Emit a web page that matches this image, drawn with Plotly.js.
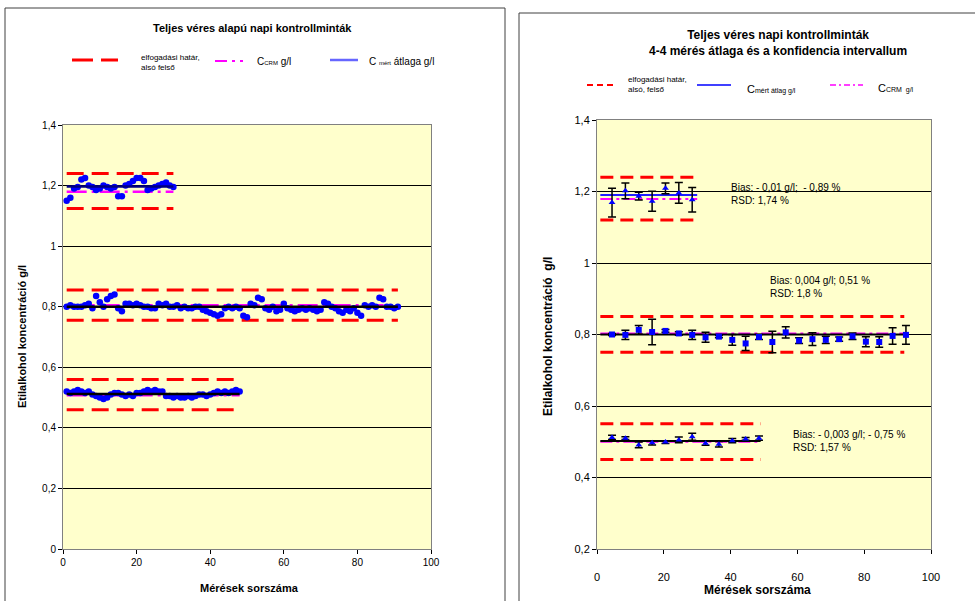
<!DOCTYPE html>
<html>
<head>
<meta charset="utf-8">
<script src="https://cdn.plot.ly/plotly-3.0.1.min.js"></script>
<style>
html,body{margin:0;padding:0;background:#fff;}
#chart{width:975px;height:601px;}
</style>
</head>
<body>
<div id="chart"></div>
<script>
// ---------- LEFT CHART DATA (individual measurements) ----------
const leftHigh = [1.15,1.16,1.19,1.195,1.22,1.225,1.2,1.195,1.185,1.19,1.2,1.195,1.19,1.195,1.165,1.165,1.2,1.205,1.215,1.225,1.225,1.215,1.185,1.19,1.195,1.2,1.205,1.21,1.2,1.195];
const leftMid = [0.80,0.805,0.80,0.80,0.80,0.805,0.81,0.795,0.835,0.815,0.80,0.825,0.835,0.84,0.795,0.785,0.81,0.81,0.805,0.81,
  0.805,0.80,0.80,0.795,0.795,0.81,0.805,0.81,0.80,0.80,0.805,0.795,0.80,0.795,0.795,0.80,0.80,0.79,0.785,0.78,
  0.775,0.77,0.775,0.795,0.80,0.795,0.80,0.795,0.77,0.765,0.81,0.805,0.83,0.825,0.795,0.79,0.80,0.785,0.79,0.81,
  0.795,0.79,0.785,0.79,0.795,0.79,0.795,0.79,0.785,0.79,0.815,0.81,0.80,0.795,0.785,0.78,0.79,0.785,0.795,0.78,
  0.77,0.805,0.80,0.805,0.80,0.83,0.825,0.80,0.80,0.795,0.80];
const leftLow = [0.52,0.515,0.52,0.525,0.52,0.515,0.52,0.51,0.505,0.50,0.495,0.50,0.51,0.515,0.515,0.51,0.505,0.51,0.505,0.515,
  0.515,0.52,0.525,0.52,0.525,0.52,0.52,0.505,0.505,0.50,0.505,0.50,0.50,0.505,0.50,0.505,0.51,0.51,0.505,0.51,
  0.515,0.52,0.515,0.52,0.515,0.52,0.525,0.52];
const leftGroupStart = [1, 1, 1];
const leftGroupEnd = [30, 91, 48];
const leftLower = [1.124, 0.755, 0.46];
const leftUpper = [1.24, 0.855, 0.56];
const leftCRM = [1.18, 0.805, 0.508];
const leftMean = [1.197, 0.80, 0.512];

// ---------- RIGHT CHART DATA (4-4 averages with confidence interval) ----------
const rightHighX = [4.5,8.5,12.5,16.5,20.5,24.5,28.5];
const rightHighY = [1.169,1.202,1.187,1.173,1.209,1.196,1.177];
const rightHighErr = [0.04,0.022,0.011,0.028,0.015,0.029,0.034];
const rightMidX = [4.5,8.5,12.5,16.5,20.5,24.5,28.5,32.5,36.5,40.5,44.5,48.5,52.5,56.5,60.5,64.5,68.5,72.5,76.5,80.5,84.5,88.5,92.5];
const rightMidY = [0.80,0.799,0.813,0.807,0.81,0.803,0.799,0.792,0.794,0.785,0.775,0.793,0.779,0.806,0.783,0.787,0.785,0.787,0.795,0.78,0.779,0.796,0.799];
const rightMidErr = [0.003,0.013,0.012,0.036,0.004,0.005,0.013,0.014,0.003,0.015,0.02,0.007,0.03,0.016,0.008,0.018,0.01,0.006,0.009,0.014,0.015,0.023,0.026];
const rightLowX = [4.5,8.5,12.5,16.5,20.5,24.5,28.5,32.5,36.5,40.5,44.5,48.5];
const rightLowY = [0.512,0.51,0.491,0.497,0.499,0.505,0.514,0.496,0.493,0.503,0.508,0.51];
const rightLowErr = [0.006,0.004,0.008,0.006,0.004,0.008,0.01,0.006,0.008,0.006,0.004,0.006];
const rightGroupStart = [1, 1, 1];
const rightGroupEnd = [30, 92, 49];
const rightLower = [1.12, 0.75, 0.45];
const rightUpper = [1.24, 0.85, 0.55];
const rightCRM = [1.179, 0.803, 0.50];
const rightMean = [1.19, 0.80, 0.502];

// ---------- TEXT ----------
const leftTitle = "Teljes véres alapú napi kontrollminták";
const rightTitle = "Teljes véres napi kontrollminták<br>4-4 mérés átlaga és a konfidencia intervallum";
const yTitle = "Etilalkohol koncentráció g/l";
const yTitleRight = "Etilalkohol koncentráció  g/l";
const xTitle = "Mérések sorszáma";
const biasTexts = ["Bias: - 0,01 g/l;  - 0,89 %<br>RSD: 1,74 %", "Bias: 0,004 g/l; 0,51 %<br>RSD: 1,8 %", "Bias: - 0,003 g/l; - 0,75 %<br>RSD: 1,57 %"];

const W = 975, H = 601;
const px = x => x / W;
const py = y => 1 - y / H;
const FONT = "Arial, 'Liberation Sans', sans-serif";

const RED = '#FF0000', MAG = '#FF00FF', BLUE = '#0000FF';
const traces = [];

function idx(n){ const a=[]; for(let i=1;i<=n;i++) a.push(i); return a; }

// left limit/ref lines
for (let g = 0; g < 3; g++) {
  const xs = [leftGroupStart[g], leftGroupEnd[g]];
  traces.push({x: xs, y: [leftUpper[g], leftUpper[g]], mode:'lines', line:{color:RED, width:3, dash:'17px,8px'}, xaxis:'x', yaxis:'y', showlegend:false, hoverinfo:'skip'});
  traces.push({x: xs, y: [leftLower[g], leftLower[g]], mode:'lines', line:{color:RED, width:3, dash:'17px,8px'}, xaxis:'x', yaxis:'y', showlegend:false, hoverinfo:'skip'});
  traces.push({x: xs, y: [leftCRM[g], leftCRM[g]], mode:'lines', line:{color:MAG, width:2.5, dash:'20px,5px,3px,5px'}, xaxis:'x', yaxis:'y', showlegend:false, hoverinfo:'skip'});
}
const leftSeries = [leftHigh, leftMid, leftLow];
for (let g = 0; g < 3; g++) {
  const xs = [leftGroupStart[g], leftGroupEnd[g]];
  traces.push({x: idx(leftSeries[g].length), y: leftSeries[g], mode:'markers', marker:{color:BLUE, size:6.5, line:{width:0}}, xaxis:'x', yaxis:'y', showlegend:false});
  traces.push({x: xs, y: [leftMean[g], leftMean[g]], mode:'lines', line:{color: g===0 ? '#000080' : '#000000', width:2.5}, xaxis:'x', yaxis:'y', showlegend:false, hoverinfo:'skip'});
}

// right limit/ref lines
for (let g = 0; g < 3; g++) {
  const xs = [rightGroupStart[g], rightGroupEnd[g]];
  traces.push({x: xs, y: [rightUpper[g], rightUpper[g]], mode:'lines', line:{color:RED, width:3, dash:'13px,7px'}, xaxis:'x2', yaxis:'y2', showlegend:false, hoverinfo:'skip'});
  traces.push({x: xs, y: [rightLower[g], rightLower[g]], mode:'lines', line:{color:RED, width:3, dash:'13px,7px'}, xaxis:'x2', yaxis:'y2', showlegend:false, hoverinfo:'skip'});
  traces.push({x: xs, y: [rightCRM[g], rightCRM[g]], mode:'lines', line:{color:MAG, width:2, dash:'12px,4px,3px,4px'}, xaxis:'x2', yaxis:'y2', showlegend:false, hoverinfo:'skip'});
  traces.push({x: xs, y: [rightMean[g], rightMean[g]], mode:'lines', line:{color: g===0 ? '#2020FF' : '#000000', width:2}, xaxis:'x2', yaxis:'y2', showlegend:false, hoverinfo:'skip'});
}
const rX = [rightHighX, rightMidX, rightLowX];
const rY = [rightHighY, rightMidY, rightLowY];
const rE = [rightHighErr, rightMidErr, rightLowErr];
const rSym = ['triangle-up', 'square', 'triangle-up'];
for (let g = 0; g < 3; g++) {
  traces.push({x: rX[g], y: rY[g], mode:'markers',
    error_y:{type:'data', array:rE[g], visible:true, color:'#000000', thickness:1.5, width:4},
    marker:{color:BLUE, size:6, symbol:rSym[g], line:{width:0}}, xaxis:'x2', yaxis:'y2', showlegend:false});
}

const axisCommon = {
  showline:true, linecolor:'#808080', linewidth:1, mirror:true,
  ticks:'outside', ticklen:4, tickcolor:'#000', tickwidth:1,
  tickfont:{family:FONT, size:10, color:'#000'}, zeroline:false, fixedrange:true
};

const shapes = [
  // panel frames
  {type:'rect', xref:'paper', yref:'paper', x0:px(5), x1:px(505), y0:py(640), y1:py(8), line:{color:'#404040', width:1}},
  {type:'rect', xref:'paper', yref:'paper', x0:px(519), x1:px(1000), y0:py(640), y1:py(13), line:{color:'#404040', width:1}},
  // left legend lines
  {type:'line', xref:'paper', yref:'paper', x0:px(72), x1:px(118), y0:py(60), y1:py(60), line:{color:RED, width:3, dash:'21px,8px'}},
  {type:'line', xref:'paper', yref:'paper', x0:px(215), x1:px(243), y0:py(61), y1:py(61), line:{color:MAG, width:2, dash:'12px,5px,3px,5px'}},
  {type:'line', xref:'paper', yref:'paper', x0:px(330), x1:px(358), y0:py(60), y1:py(60), line:{color:'#6666FF', width:2.5}},
  // right legend lines
  {type:'line', xref:'paper', yref:'paper', x0:px(587), x1:px(616), y0:py(85), y1:py(85), line:{color:RED, width:2, dash:'6px,4px'}},
  {type:'line', xref:'paper', yref:'paper', x0:px(697), x1:px(731), y0:py(85), y1:py(85), line:{color:'#0000FF', width:1.5}},
  {type:'line', xref:'paper', yref:'paper', x0:px(830), x1:px(863), y0:py(85), y1:py(85), line:{color:MAG, width:1.5, dash:'6px,3px,2px,3px'}}
];

function ann(x, y, text, size, opts) {
  return Object.assign({xref:'paper', yref:'paper', x:px(x), y:py(y), text:text, showarrow:false, align:'left',
    font:{family:FONT, size:size, color:'#000'}, xanchor:'left', yanchor:'middle'}, opts || {});
}

const annotations = [
  ann(252, 28, '<b>' + leftTitle + '</b>', 11, {xanchor:'center', align:'center'}),
  ann(778, 43, '<b>' + rightTitle + '</b>', 12, {xanchor:'center', align:'center'}),
  ann(22, 337, '<b>' + yTitle + '</b>', 11, {xanchor:'center', textangle:-90}),
  ann(548, 337, '<b>' + yTitleRight + '</b>', 12, {xanchor:'center', textangle:-90}),
  ann(250, 588, '<b>' + xTitle + '</b>', 11, {xanchor:'center'}),
  ann(757, 590, '<b>' + xTitle + '</b>', 12, {xanchor:'center'}),
  // left legend texts
  ann(139, 62, 'elfogadási határ,<br>alsó felső', 8, {}),
  ann(255, 61, 'C<span style="font-size:6px">CRM</span> g/l', 10, {}),
  ann(367, 61, 'C <span style="font-size:6px">mért</span> átlaga g/l', 10, {}),
  // right legend texts
  ann(626, 85, 'elfogadási határ,<br>alsó, felső', 8, {}),
  ann(745, 89, 'C<span style="font-size:7px">mért átlag g/l</span>', 11, {}),
  ann(876, 88, 'C<span style="font-size:7px">CRM  g/l</span>', 11, {}),
  // bias / RSD texts
  ann(729, 194, biasTexts[0], 10, {}),
  ann(768, 287, biasTexts[1], 10, {}),
  ann(791, 441, biasTexts[2], 10, {})
];

const layout = {
  width: W, height: H,
  margin:{l:0, r:0, t:0, b:0},
  paper_bgcolor:'#FFFFFF', plot_bgcolor:'#FFFFCC',
  separators:', ',
  showlegend:false,
  font:{family:FONT, color:'#000'},
  xaxis: Object.assign({}, axisCommon, {domain:[px(63), px(431)], range:[0,100], dtick:20, tick0:0, showgrid:false, anchor:'y'}),
  yaxis: Object.assign({}, axisCommon, {domain:[py(549), py(125)], range:[0,1.4], dtick:0.2, tick0:0, showgrid:true, gridcolor:'#000000', gridwidth:1, anchor:'x', tickformat:'.1~f'}),
  xaxis2: Object.assign({}, axisCommon, {domain:[px(597), px(931)], range:[0,100], dtick:20, tick0:0, showgrid:false, anchor:'y2', ticklabelstandoff:14, tickfont:{family:FONT, size:11, color:'#000'}}),
  yaxis2: Object.assign({}, axisCommon, {domain:[py(549), py(120)], range:[0.2,1.4], dtick:0.2, tick0:0.2, showgrid:true, gridcolor:'#000000', gridwidth:1, anchor:'x2', tickformat:'.1~f', tickfont:{family:FONT, size:11, color:'#000'}}),
  shapes: shapes,
  annotations: annotations
};

Plotly.newPlot('chart', traces, layout, {displayModeBar:false, staticPlot:true});
</script>
</body>
</html>
